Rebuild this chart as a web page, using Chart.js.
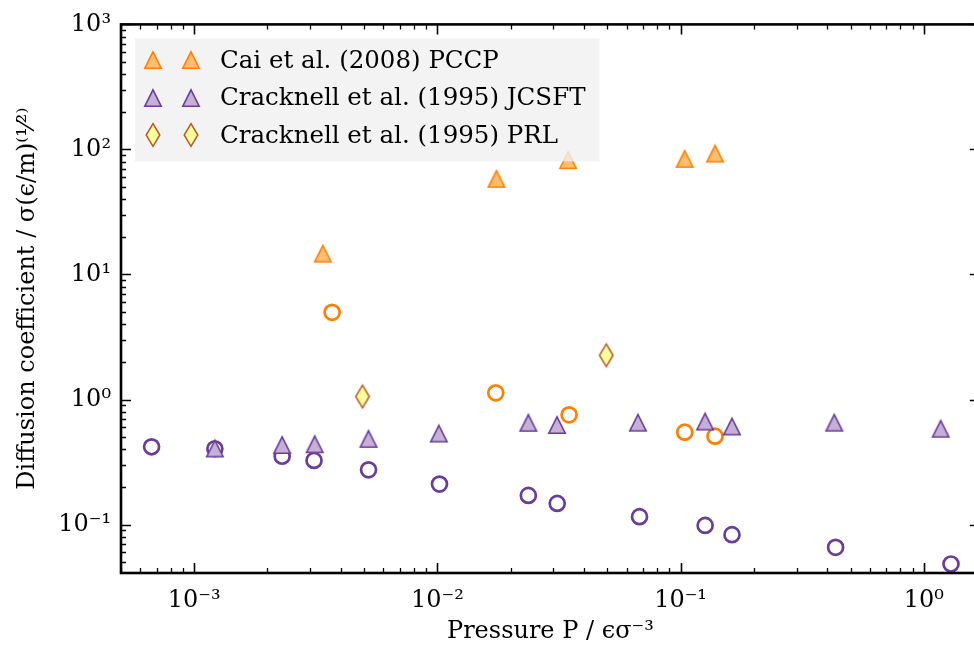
<!DOCTYPE html>
<html><head><meta charset="utf-8">
<script src="https://cdn.jsdelivr.net/npm/chart.js@4.4.1/dist/chart.umd.min.js"></script>
<style>
html,body{margin:0;padding:0;overflow:hidden;background:#fff}
#wrap{width:990px;height:649px;position:relative}
</style>
</head><body><div id="wrap"><canvas id="c" width="990" height="649"></canvas></div>
<script>
// ---- data (pressure P, diffusion coefficient D) ----
const caiTriP  = [0.00338, 0.0175, 0.0345, 0.104, 0.1387];
const caiTriD  = [14.7, 58.2, 82.1, 84.1, 92.7];
const caiCircP = [0.00369, 0.01738, 0.0348, 0.104, 0.1385];
const caiCircD = [4.98, 1.131, 0.755, 0.548, 0.509];
const jcTriP   = [0.001216, 0.0023, 0.00313, 0.00521, 0.01014, 0.02366, 0.03105, 0.0668, 0.1261, 0.1627, 0.4287, 1.174];
const jcTriD   = [0.406, 0.433, 0.439, 0.485, 0.535, 0.652, 0.626, 0.653, 0.667, 0.609, 0.653, 0.584];
const jcCircP  = [0.000668, 0.001216, 0.0023, 0.00311, 0.00521, 0.0102, 0.02366, 0.0311, 0.0678, 0.1262, 0.1627, 0.434, 1.294];
const jcCircD  = [0.419, 0.404, 0.352, 0.326, 0.274, 0.211, 0.171, 0.1476, 0.1156, 0.0985, 0.083, 0.0658, 0.0484];
const prlP     = [0.00492, 0.0495];
const prlD     = [1.057, 2.26];
const legendLabels = ['Cai et al. (2008) PCCP', 'Cracknell et al. (1995) JCSFT', 'Cracknell et al. (1995) PRL'];
const xTickValues = [1e-3, 1e-2, 1e-1, 1];
const xTickLabels = ['10⁻³', '10⁻²', '10⁻¹', '10⁰'];
const yTickValues = [0.1, 1, 10, 100, 1000];
const yTickLabels = ['10⁻¹', '10⁰', '10¹', '10²', '10³'];
const xTitle = 'Pressure P / ϵσ⁻³';
const yTitle = 'Diffusion coefficient / σ(ϵ/m)⁽¹⁄²⁾';

const zip = (a, b) => a.map((v, i) => ({x: v, y: b[i]}));

function marker(shape, fill, stroke, lw) {
  const c = document.createElement('canvas');
  let hw, hh;
  if (shape === 'tri') { hw = 8.2; hh = 8.2; } else { hw = 6.8; hh = 11.3; }
  let W = Math.ceil(2 * hw + 2 * lw + 4), H = Math.ceil(2 * hh + 2 * lw + 4);
  c.width = W + (W % 2); c.height = H + (H % 2);
  const g = c.getContext('2d');
  const cx = c.width / 2, cy = c.height / 2;
  g.beginPath();
  if (shape === 'tri') {
    g.moveTo(cx, cy - hh); g.lineTo(cx + hw, cy + hh); g.lineTo(cx - hw, cy + hh);
  } else {
    g.moveTo(cx, cy - hh); g.lineTo(cx + hw, cy); g.lineTo(cx, cy + hh); g.lineTo(cx - hw, cy);
  }
  g.closePath();
  g.fillStyle = fill; g.fill();
  g.lineWidth = lw; g.strokeStyle = stroke; g.lineJoin = 'miter'; g.stroke();
  return c;
}
const mCaiTri = marker('tri', '#fdbf6f', '#ff7f00', 1.6);
const mJcTri  = marker('tri', '#c6b0d6', '#6a3d9a', 1.6);
const mPrl    = marker('dia', '#ffff99', '#b15928', 1.5);

Chart.defaults.font.family = "'DejaVu Serif', serif";
Chart.defaults.color = '#000';

const legendPlugin = {
  id: 'mplLegend',
  afterDatasetsDraw(chart) {
    const ctx = chart.ctx, a = chart.chartArea;
    const items = chart.data.datasets.filter(d => d.legendIndex !== undefined)
      .sort((p, q) => p.legendIndex - q.legendIndex);
    ctx.save();
    ctx.font = "24.5px 'DejaVu Serif', serif";
    let maxW = 0;
    items.forEach(d => { maxW = Math.max(maxW, ctx.measureText(d.label).width); });
    const x0 = a.left + 14, y0 = a.top + 14;
    const rowH = 37.5;
    const w = 85 + maxW + 14, h = rowH * items.length + 10.5;
    ctx.fillStyle = 'rgba(240,240,240,0.8)';
    ctx.fillRect(x0, y0, w, h);
    ctx.textBaseline = 'middle';
    ctx.fillStyle = '#000';
    items.forEach((d, i) => {
      const cy = y0 + 22 + i * rowH;
      const img = d.pointStyle;
      [18, 56].forEach(dx => ctx.drawImage(img, Math.round(x0 + dx - img.width / 2), Math.round(cy - img.height / 2)));
      ctx.fillText(d.label, x0 + 85, cy + 1);
    });
    ctx.restore();
  }
};

const framePlugin = {
  id: 'mplFrame',
  afterDraw(chart) {
    const ctx = chart.ctx, a = chart.chartArea;
    const xs = chart.scales.x, ys = chart.scales.y;
    ctx.save();
    ctx.strokeStyle = '#000';
    function ticksFor(min, max) {
      const out = [];
      for (let d = Math.floor(Math.log10(min)); d <= Math.ceil(Math.log10(max)); d++) {
        for (let k = 1; k <= 9; k++) {
          const v = k * Math.pow(10, d);
          if (v >= min * 0.9999 && v <= max * 1.0001) out.push({v, major: k === 1});
        }
      }
      return out;
    }
    ticksFor(xs.min, xs.max).forEach(t => {
      const px = Math.round(xs.getPixelForValue(t.v)) + 0.5;
      const L = t.major ? 10 : 5;
      ctx.lineWidth = t.major ? 1.6 : 1.3;
      ctx.beginPath();
      ctx.moveTo(px, a.bottom); ctx.lineTo(px, a.bottom - L);
      ctx.moveTo(px, a.top); ctx.lineTo(px, a.top + L);
      ctx.stroke();
    });
    ticksFor(ys.min, ys.max).forEach(t => {
      const py = Math.round(ys.getPixelForValue(t.v)) + 0.5;
      const L = t.major ? 10 : 5;
      ctx.lineWidth = t.major ? 1.6 : 1.3;
      ctx.beginPath();
      ctx.moveTo(a.left, py); ctx.lineTo(a.left + L, py);
      ctx.moveTo(a.right, py); ctx.lineTo(a.right - L, py);
      ctx.stroke();
    });
    ctx.lineWidth = 2.6;
    ctx.strokeRect(a.left, a.top, a.right - a.left, a.bottom - a.top);
    ctx.restore();
  }
};

new Chart(document.getElementById('c'), {
  type: 'scatter',
  data: {
    datasets: [
      {label: legendLabels[2], legendIndex: 2, data: zip(prlP, prlD), pointStyle: mPrl, order: 0},
      {label: legendLabels[0], legendIndex: 0, data: zip(caiTriP, caiTriD), pointStyle: mCaiTri, order: 1},
      {label: legendLabels[1], legendIndex: 1, data: zip(jcTriP, jcTriD), pointStyle: mJcTri, order: 2},
      {label: 'Cai circles', data: zip(caiCircP, caiCircD), pointStyle: 'circle', pointRadius: 7.5,
        pointBorderWidth: 2.7, pointBorderColor: '#ff7f00', pointBackgroundColor: 'rgba(0,0,0,0)', order: 3},
      {label: 'Cracknell circles', data: zip(jcCircP, jcCircD), pointStyle: 'circle', pointRadius: 7.5,
        pointBorderWidth: 2.7, pointBorderColor: '#6a3d9a', pointBackgroundColor: 'rgba(0,0,0,0)', order: 4}
    ]
  },
  options: {
    responsive: false,
    animation: false,
    events: [],
    layout: {padding: {left: 0, right: 7, top: 24, bottom: 0}},
    plugins: {legend: {display: false}, tooltip: {enabled: false}},
    scales: {
      x: {
        type: 'logarithmic', min: 5e-4, max: 1.7,
        grid: {display: false, drawTicks: false}, border: {display: false},
        afterBuildTicks: s => { s.ticks = xTickValues.map(v => ({value: v})); },
        afterFit: s => { s.height = 76; },
        ticks: {autoSkip: false, maxRotation: 0, padding: 13, font: {size: 24}, color: '#000',
          callback: (v, i) => xTickLabels[i]},
        title: {display: true, text: xTitle, font: {size: 24}, color: '#000', padding: {top: 0, bottom: 3}}
      },
      y: {
        type: 'logarithmic', min: 0.041, max: 1000,
        grid: {display: false, drawTicks: false}, border: {display: false},
        afterBuildTicks: s => { s.ticks = yTickValues.map(v => ({value: v})); },
        afterFit: s => { s.width = 121; },
        ticks: {autoSkip: false, padding: 10, font: {size: 24}, color: '#000',
          callback: (v, i) => yTickLabels[i]},
        title: {display: true, text: yTitle, font: {size: 24}, color: '#000', padding: {top: 13, bottom: 0}}
      }
    }
  },
  plugins: [legendPlugin, framePlugin]
});
</script>
</body></html>
